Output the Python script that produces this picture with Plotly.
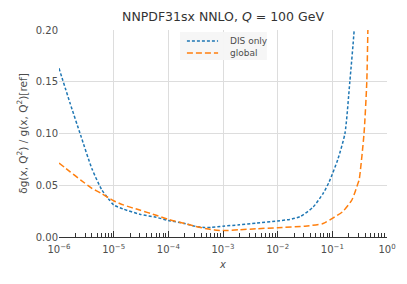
import plotly.graph_objects as go

# DIS only (blue, dotted)
dis_x = [1e-6, 1.6e-6, 2.5e-6, 4e-6, 6e-6, 8e-6, 1e-5, 1.5e-5, 3e-5, 6e-5, 1e-4,
         2e-4, 3e-4, 4.5e-4, 6e-4, 1e-3, 2e-3, 4e-3, 1e-2, 1.66e-2, 2.57e-2, 4.47e-2,
         6.76e-2, 8.71e-2, 0.126, 0.17, 0.209, 0.251, 0.29]
dis_y = [0.163, 0.129, 0.098, 0.066, 0.046, 0.037, 0.031, 0.027, 0.022, 0.019, 0.016,
         0.013, 0.0105, 0.0092, 0.0093, 0.0104, 0.0118, 0.0133, 0.0155, 0.017, 0.0197, 0.029,
         0.042, 0.053, 0.075, 0.100, 0.150, 0.200, 0.26]

# global (orange, dashed)
glo_x = [1e-6, 1.6e-6, 2.5e-6, 4e-6, 6e-6, 8e-6, 1e-5, 1.5e-5, 3e-5, 6e-5, 1e-4,
         2e-4, 3e-4, 5e-4, 7e-4, 1e-3, 2e-3, 4e-3, 1e-2, 3.16e-2, 6.76e-2,
         0.1, 0.155, 0.229, 0.295, 0.309, 0.38, 0.427, 0.447, 0.47]
glo_y = [0.0715, 0.063, 0.055, 0.047, 0.042, 0.038, 0.035, 0.031, 0.026, 0.021, 0.017,
         0.013, 0.0105, 0.0080, 0.0068, 0.0062, 0.0070, 0.0079, 0.0090, 0.0105, 0.0130,
         0.018, 0.0245, 0.036, 0.052, 0.055, 0.100, 0.150, 0.200, 0.25]

series_names = ["DIS only", "global"]
series_colors = ["#1f77b4", "#ff7f0e"]
series_dashes = ["3px,2px", "6px,3px"]

xtick_vals = [1e-6, 1e-5, 1e-4, 1e-3, 1e-2, 1e-1, 1]
xtick_text = ["10<sup>\u22126</sup>", "10<sup>\u22125</sup>", "10<sup>\u22124</sup>",
              "10<sup>\u22123</sup>", "10<sup>\u22122</sup>", "10<sup>\u22121</sup>",
              "10<sup>0</sup>"]
ytick_vals = [0.0, 0.05, 0.10, 0.15, 0.20]
ytick_text = ["0.00", "0.05", "0.10", "0.15", "0.20"]

minor_vals = [m * 10.0 ** e for e in range(-6, 0) for m in range(2, 10)]

FONT = "DejaVu Sans"
GRAY = "#4d4d4d"

fig = go.Figure()
for xs, ys, nm, col, dsh in zip([dis_x, glo_x], [dis_y, glo_y], series_names,
                                series_colors, series_dashes):
    fig.add_trace(go.Scatter(x=xs, y=ys, mode="lines", name=nm, showlegend=False,
                             line=dict(color=col, width=1.5, dash=dsh, shape="spline",
                                       smoothing=0.6)))

# manual legend (paper coordinates)
fig.add_shape(type="rect", xref="paper", yref="paper", x0=0.369, x1=0.634,
              y0=0.855, y1=0.990, fillcolor="rgba(245,245,245,0.95)", line=dict(width=0),
              layer="above")
for i, (nm, col, dsh) in enumerate(zip(series_names, series_colors, series_dashes)):
    yy = 0.947 - i * 0.058
    fig.add_shape(type="line", xref="paper", yref="paper", x0=0.39, x1=0.485, y0=yy, y1=yy,
                  line=dict(color=col, width=1.5, dash=dsh), layer="above")
    fig.add_annotation(xref="paper", yref="paper", x=0.515, y=yy, text=nm, showarrow=False,
                       xanchor="left", yanchor="middle",
                       font=dict(family=FONT, size=9, color=GRAY))

# page has an 8px body margin: figure drawn at (8, 8)
fig.update_layout(
    width=399, height=276,
    margin=dict(l=51, r=20, t=22, b=47),
    paper_bgcolor="white", plot_bgcolor="white",
    font=dict(family=FONT, size=10, color=GRAY),
    title=dict(text="NNPDF31sx NNLO, <i>Q</i> = 100 GeV", x=(51 + 164) / 399,
               xanchor="center", y=1 - 9 / 276, yanchor="middle",
               font=dict(family=FONT, size=12.5, color="#333333")),
)
fig.update_xaxes(type="log", range=[-6, 0], tickvals=xtick_vals, ticktext=xtick_text,
                 showgrid=True, gridcolor="#dddddd", gridwidth=1,
                 showline=True, linecolor="#333333", linewidth=1.2,
                 ticks="inside", ticklen=6, tickcolor="#333333", tickwidth=1.2,
                 minor=dict(tickvals=minor_vals, ticks="inside", ticklen=3.5,
                            tickcolor="#333333", tickwidth=1, showgrid=False),
                 tickfont=dict(size=10, color=GRAY), ticklabelstandoff=3,
                 title=dict(text="<i>x</i>", font=dict(size=10, color=GRAY), standoff=6),
                 zeroline=False)
fig.update_yaxes(range=[0, 0.20], tickvals=ytick_vals, ticktext=ytick_text,
                 showgrid=True, gridcolor="#dddddd", gridwidth=1,
                 showline=False, ticks="", zeroline=False,
                 tickfont=dict(size=10, color=GRAY),
                 title=dict(text="\u03b4g(x, Q<sup>2</sup>) / g(x, Q<sup>2</sup>)[ref]",
                            font=dict(size=10.5, color=GRAY), standoff=6))

fig.write_html("out.html")
